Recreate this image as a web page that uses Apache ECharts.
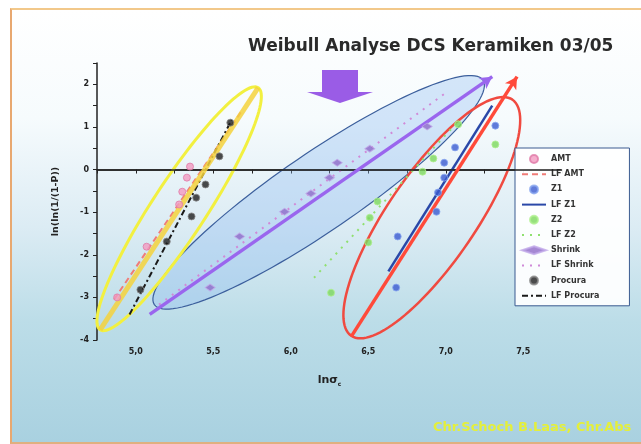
<!DOCTYPE html>
<html><head><meta charset="utf-8">
<script src="https://cdn.jsdelivr.net/npm/echarts@6/dist/echarts.min.js"></script>
<style>
html,body{margin:0;padding:0;width:641px;height:444px;overflow:hidden;background:#fff;}
#frame{position:absolute;left:10px;top:8px;width:640px;height:432px;border-left:2px solid #e8a870;border-top:2px solid #f2c88a;border-bottom:2px solid #e0b080;
background:linear-gradient(180deg,#ffffff 0%,#f6fbfd 25%,#dcecf4 50%,#bcdde8 72%,#a9d1e0 100%);}
#c{position:absolute;left:0;top:0;width:641px;height:444px;}
</style></head>
<body><div id="frame"></div><div id="c"></div>
<script>
// ---- data ----
const amt      = [[4.88,-3.00],[5.07,-1.81],[5.28,-0.82],[5.30,-0.52],[5.33,-0.19],[5.35,0.07]];
const lfAmt    = [[4.86,-3.05],[5.69,1.41]];
const z1       = [[6.68,-2.77],[6.69,-1.57],[6.94,-0.99],[6.95,-0.54],[6.99,-0.19],[6.99,0.16],[7.06,0.52],[7.32,1.03]];
const lfZ1     = [[6.63,-2.39],[7.30,1.50]];
const z2       = [[6.26,-2.89],[6.50,-1.71],[6.51,-1.13],[6.56,-0.75],[6.85,-0.05],[6.92,0.26],[7.08,1.06],[7.32,0.59]];
const lfZ2     = [[6.15,-2.54],[7.09,1.17]];
const shrink   = [[5.48,-2.77],[5.67,-1.57],[5.96,-0.99],[6.13,-0.56],[6.25,-0.19],[6.30,0.16],[6.51,0.49],[6.88,1.01]];
const lfShrink = [[5.15,-3.17],[7.00,1.80]];
const procura  = [[5.03,-2.82],[5.20,-1.69],[5.36,-1.10],[5.39,-0.66],[5.45,-0.35],[5.54,0.31],[5.61,1.10]];
const lfProcura= [[4.96,-3.40],[5.62,1.17]];
// annotation overlays (major-axis endpoints / arrow endpoints in data units)
const ellYellow = [[4.77,-3.76,5.79,1.92]];
const ellBlue   = [[5.12,-3.17,7.24,2.10]];
const ellRed    = [[6.39,-3.90,7.43,1.64]];
const arrowPurple = [[5.09,-3.40],[7.30,2.18]];
const arrowRed    = [[6.39,-3.92],[7.46,2.18]];
const titleText = 'Weibull Analyse DCS Keramiken 03/05';
const creditText = 'Chr.Schoch B.Laas, Chr.Abs';

function ellipse(b, style){
  return function(params, api){
    const p1 = api.coord([api.value(0), api.value(1)]);
    const p2 = api.coord([api.value(2), api.value(3)]);
    const cx=(p1[0]+p2[0])/2, cy=(p1[1]+p2[1])/2;
    const a=Math.hypot(p2[0]-p1[0],p2[1]-p1[1])/2;
    const ang=Math.atan2(p2[1]-p1[1],p2[0]-p1[0]);
    const pts=[];
    for(let i=0;i<120;i++){const t=i/120*2*Math.PI;const ex=a*Math.cos(t),ey=b*Math.sin(t);
      pts.push([cx+ex*Math.cos(ang)-ey*Math.sin(ang),cy+ex*Math.sin(ang)+ey*Math.cos(ang)]);}
    return {type:'polygon',shape:{points:pts},style:style};
  };
}
const ell=(data,b,style,z)=>({type:'custom',renderItem:ellipse(b,style),data:data,encode:{x:[0,2],y:[1,3]},z:z,silent:true,clip:false});
const fitLine=(name,data,ls)=>({name:name,type:'line',data:data,showSymbol:false,symbol:'none',
  itemStyle:{color:ls.color,opacity:0},lineStyle:ls,z:3});

const chart = echarts.init(document.getElementById('c'));
const lbl = {fontFamily:'DejaVu Sans',fontWeight:'bold',fontSize:8,color:'#222'};
const option = {
  animation:false,
  grid:{left:97,right:79,top:63,bottom:104},
  xAxis:{type:'value',min:4.75,max:7.75,interval:0.25,
    name:'{a|lnσ}{b|c}',nameLocation:'middle',nameGap:33,
    nameTextStyle:{rich:{a:{fontFamily:'DejaVu Sans',fontWeight:'bold',fontSize:11,color:'#222'},b:{fontFamily:'DejaVu Sans',fontWeight:'bold',fontSize:6,color:'#222',padding:[8,0,0,0]}}},
    axisLine:{lineStyle:{color:'#222',width:1.5}},axisTick:{length:4,lineStyle:{color:'#222'}},
    axisLabel:Object.assign({interval:0,margin:8,formatter:v=>Math.abs(v*2-Math.round(v*2))<1e-6?v.toFixed(1).replace('.',','):''},lbl),
    splitLine:{show:false}},
  yAxis:{type:'value',min:-4,max:2.5,interval:0.5,
    name:'ln(ln(1/(1-P))',nameLocation:'middle',nameGap:36,
    nameTextStyle:{fontFamily:'DejaVu Sans',fontWeight:'bold',fontSize:9.5,color:'#222'},
    axisLine:{lineStyle:{color:'#222',width:1.5}},axisTick:{length:4,lineStyle:{color:'#222'}},
    axisLabel:Object.assign({interval:0,margin:8,formatter:v=>Math.abs(v-Math.round(v))<1e-6?String(Math.round(v)):''},lbl),
    splitLine:{show:false}},
  legend:{orient:'vertical',left:515,top:148,itemWidth:24,itemHeight:8,itemGap:6.2,
    backgroundColor:'rgba(255,255,255,0.92)',borderColor:'#3a5a90',borderWidth:1,padding:[6,30,6,6],
    textStyle:{fontFamily:'DejaVu Sans',fontWeight:'bold',fontSize:8,color:'#333'},
    data:['AMT','LF AMT','Z1','LF Z1','Z2','LF Z2',{name:'Shrink',itemStyle:{}},'LF Shrink','Procura','LF Procura']},
  graphic:[
    {type:'text',left:248,top:38,style:{text:titleText,fontFamily:'DejaVu Sans',fontWeight:'bold',fontSize:17,fill:'#2a2a2a'}},
    {type:'polygon',shape:{points:[[322,70],[358,70],[358,92],[373,92],[340,103],[307,92],[322,92]]},style:{fill:'#9a5ce6'}},
    {type:'text',left:433,top:421,style:{text:creditText,fontFamily:'DejaVu Sans',fontWeight:'bold',fontSize:13,fill:'#e4ef3a'}}
  ],
  series:[
    ell(ellBlue,39,{fill:'rgba(140,185,240,0.35)',stroke:'#3c5f9c',lineWidth:1.2},1),
    ell(ellYellow,27,{fill:'none',stroke:'#f2f040',lineWidth:3},1),
    ell(ellRed,44,{fill:'none',stroke:'#f04a40',lineWidth:2.5},1),
    {name:'zero',type:'line',data:[],markLine:{silent:true,symbol:'none',label:{show:false},lineStyle:{color:'#222',width:1.5,type:'solid'},data:[{yAxis:0}]},z:2},
    {name:'yband',type:'line',data:[],markLine:{silent:true,symbol:'none',label:{show:false},lineStyle:{color:'rgba(245,210,60,0.85)',width:5,type:'solid'},
      data:[[{coord:[ellYellow[0][0],ellYellow[0][1]]},{coord:[ellYellow[0][2],ellYellow[0][3]]}]]},z:2},
    fitLine('LF AMT',lfAmt,{color:'#f07c78',width:2,type:[6,4]}),
    fitLine('LF Z1',lfZ1,{color:'#2a48a8',width:2.5,type:'solid'}),
    fitLine('LF Z2',lfZ2,{color:'#90e070',width:2,type:[2,6]}),
    fitLine('LF Shrink',lfShrink,{color:'#d08ad8',width:2,type:[2,6]}),
    fitLine('LF Procura',lfProcura,{color:'#1a1a1a',width:2,type:[6,3,2,3]}),
    {name:'arrows',type:'line',data:[],markLine:{silent:true,symbol:['none','arrow'],symbolSize:[10,12],label:{show:false},
      data:[[{coord:arrowPurple[0],lineStyle:{color:'#9a66ee',width:3.5,type:'solid'}},{coord:arrowPurple[1]}],
            [{coord:arrowRed[0],lineStyle:{color:'#ff4a3a',width:3.5,type:'solid'}},{coord:arrowRed[1]}]]},z:4},
    {name:'AMT',type:'scatter',data:amt,symbol:'circle',symbolSize:7,itemStyle:{color:'#f29ac0',borderColor:'#e07aa8',borderWidth:1},z:5},
    {name:'Z1',type:'scatter',data:z1,symbol:'circle',symbolSize:7,itemStyle:{color:'#3a5ad0',borderColor:'#8aa8f0',borderWidth:1},z:5},
    {name:'Z2',type:'scatter',data:z2,symbol:'circle',symbolSize:7,itemStyle:{color:'#7cd85c',borderColor:'#b0f090',borderWidth:1},z:5},
    {name:'Shrink',type:'scatter',data:shrink,symbol:'diamond',symbolSize:[10,7],itemStyle:{color:'#8f6ac8',borderColor:'#c0a8e8',borderWidth:1},z:5},
    {name:'Procura',type:'scatter',data:procura,symbol:'circle',symbolSize:7,itemStyle:{color:'#1e1e1e',borderColor:'#888',borderWidth:1},z:5}
  ]
};
chart.setOption(option);
</script></body></html>
